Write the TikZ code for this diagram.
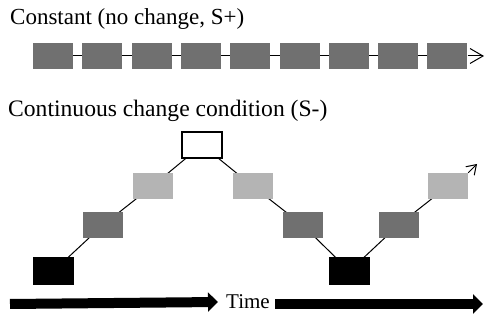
\documentclass[tikz,border=0pt]{standalone}
\usepackage{fontspec}
\setmainfont{Liberation Serif}
\usetikzlibrary{arrows.meta,backgrounds}
\definecolor{midgray}{HTML}{707070}
\definecolor{lightgray}{HTML}{B4B4B4}
\tikzset{
  cell/.style={rectangle, inner sep=0pt, minimum width=40pt, minimum height=26pt},
  midcell/.style={cell, fill=midgray},
  lightcell/.style={cell, fill=lightgray},
  darkcell/.style={cell, fill=black, minimum width=41pt, minimum height=28pt},
  opencell/.style={cell, draw=black, line width=1.2pt, fill=white},
  link/.style={draw=black, line width=1pt},
  heading/.style={anchor=base west, inner sep=0pt},
  timearrow/.style={line width=10pt, -{Triangle[length=10pt,width=19pt]}}
}
\begin{document}
\begin{tikzpicture}[x=1pt,y=-1pt]
\useasboundingbox (0,0) rectangle (485,320);

% headings
\node[heading, font=\fontsize{23}{27}\selectfont] (h1) at (10,25) {Constant (no change, S+)};
\node[heading, font=\fontsize{23.6}{27}\selectfont] (h2) at (8,116.5) {Continuous change condition (S-)};

% constant row
\foreach \i in {1,...,9} {
  \node[midcell] (c\i) at ({53+49.3*(\i-1)},56) {};
}
\coordinate (cend) at (484,56);
\begin{scope}[on background layer]
  \foreach \i [evaluate=\i as \j using int(\i+1)] in {1,...,8} {
    \draw[link] (c\i.center) -- (c\j.center);
  }
\end{scope}
\draw[link, -{Straight Barb[length=13pt,width=15pt]}] (c9.east) -- (cend);

% changing sequence
\node[darkcell]  (b1) at (53.5,271) {};
\node[midcell]   (d1) at (103,225) {};
\node[lightcell] (l1) at (152.5,186) {};
\node[opencell]  (w)  at (202,145) {};
\node[lightcell] (l2) at (252.5,186) {};
\node[midcell]   (d2) at (302.5,225) {};
\node[darkcell]  (b2) at (349.5,271) {};
\node[midcell]   (d3) at (398.5,225) {};
\node[lightcell] (l3) at (448,186) {};
\coordinate (send) at (477,164);
\begin{scope}[on background layer]
  \draw[link] (b1.center) -- (d1.center) -- (l1.center) -- (w.center)
    -- (l2.center) -- (d2.center) -- (b2.center) -- (d3.center) -- (l3.center);
\end{scope}
\draw[link, -{Straight Barb[length=9pt,width=12pt]}] (l3.north east) -- (send);

% time axis
\node[font=\fontsize{21}{24}\selectfont, inner sep=0pt] (time) at (248,302) {Time};
\coordinate (ta) at (10,304);
\coordinate (tb) at (275,304);
\coordinate (tc) at (483,304);
\draw[timearrow] (ta) -- (time.west -| 218,0);
\draw[timearrow] (tb) -- (tc);
\end{tikzpicture}
\end{document}
